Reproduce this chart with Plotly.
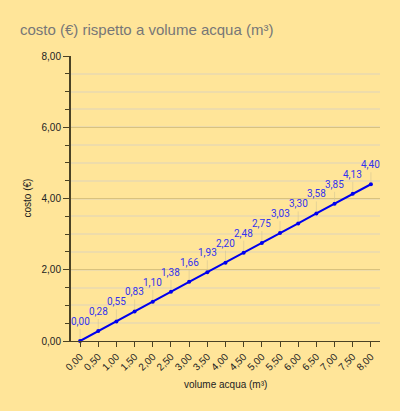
import plotly.graph_objects as go

volume = [0, 0.5, 1, 1.5, 2, 2.5, 3, 3.5, 4, 4.5, 5, 5.5, 6, 6.5, 7, 7.5, 8]
costo = [0.00, 0.28, 0.55, 0.83, 1.10, 1.38, 1.66, 1.93, 2.20, 2.48, 2.75, 3.03, 3.30, 3.58, 3.85, 4.13, 4.40]
x_ticks = volume
x_labels = [f"{v:.2f}".replace(".", ",") for v in x_ticks]
y_ticks = [0, 2, 4, 6, 8]
y_labels = [f"{v:.2f}".replace(".", ",") for v in y_ticks]
point_labels = [f"{v:.2f}".replace(".", ",") for v in costo]

BG = "#FFE599"
AXIS = "#4a4224"
FONT = "Liberation Sans, Arial, sans-serif"
W, H = 400, 411
L, R, T, B = 71, 20, 56, 70

fig = go.Figure()
fig.add_trace(go.Scatter(
    x=volume, y=costo, mode="lines+markers",
    line=dict(color="#0000EE", width=2),
    marker=dict(color="#0000EE", size=4),
    cliponaxis=False, hoverinfo="skip", showlegend=False,
))

for xv, yv, lab in zip(volume, costo, point_labels):
    fig.add_annotation(
        x=xv, y=yv, text=lab, showarrow=True, arrowhead=0, arrowwidth=1,
        arrowcolor="rgba(215,200,150,0.6)", ax=0, ay=-12, standoff=2,
        yanchor="bottom",
        font=dict(color="#3333EE", size=10, family="Roboto"),
    )

# axis titles placed as paper annotations
pw, ph = W - L - R, H - T - B
fig.add_annotation(text="volume acqua (m³)", xref="paper", yref="paper",
                   x=0.5, y=-(384 - (H - B)) / ph, showarrow=False,
                   xanchor="center", yanchor="middle",
                   font=dict(size=10, color="#222222", family=FONT))
fig.add_annotation(text="costo (€)", xref="paper", yref="paper",
                   x=-(L - 27) / pw, y=0.5, showarrow=False, textangle=-90,
                   xanchor="center", yanchor="middle",
                   font=dict(size=10, color="#222222", family=FONT))

fig.update_layout(
    width=W, height=H,
    paper_bgcolor=BG, plot_bgcolor=BG,
    margin=dict(l=L, r=R, t=T, b=B, autoexpand=False),
    font=dict(family=FONT, color="#222222", size=10),
    title=dict(text="costo (€) rispetto a volume acqua (m³)",
               font=dict(size=15, color="#777777", family=FONT),
               x=20 / W, xanchor="left", xref="container",
               y=1 - 30 / H, yref="container", yanchor="middle"),
)
fig.update_xaxes(
    range=[-0.25, 8.25], tickvals=x_ticks, ticktext=x_labels, tickangle=-45,
    showgrid=False, zeroline=False, showline=True, linecolor=AXIS, linewidth=1,
    ticks="outside", ticklen=5, tickcolor=AXIS, tickwidth=1, automargin=False,
    tickfont=dict(size=10, color="#222222", family=FONT),
)
fig.update_yaxes(
    range=[0, 8], tickvals=y_ticks, ticktext=y_labels,
    showgrid=True, gridcolor="#D9C27E", gridwidth=1, zeroline=False,
    showline=True, linecolor=AXIS, linewidth=2, automargin=False,
    ticks="outside", ticklen=6, tickcolor=AXIS, tickwidth=1,
    tickfont=dict(size=10, color="#222222", family=FONT),
    minor=dict(dtick=0.5, showgrid=True, gridcolor="#EEDCAA", gridwidth=1.5,
               ticks="outside", ticklen=4, tickcolor=AXIS),
)
fig.write_html("out.html", config={"displayModeBar": False},
               post_script="document.body.style.margin='0';document.body.style.background='%s';" % BG)
